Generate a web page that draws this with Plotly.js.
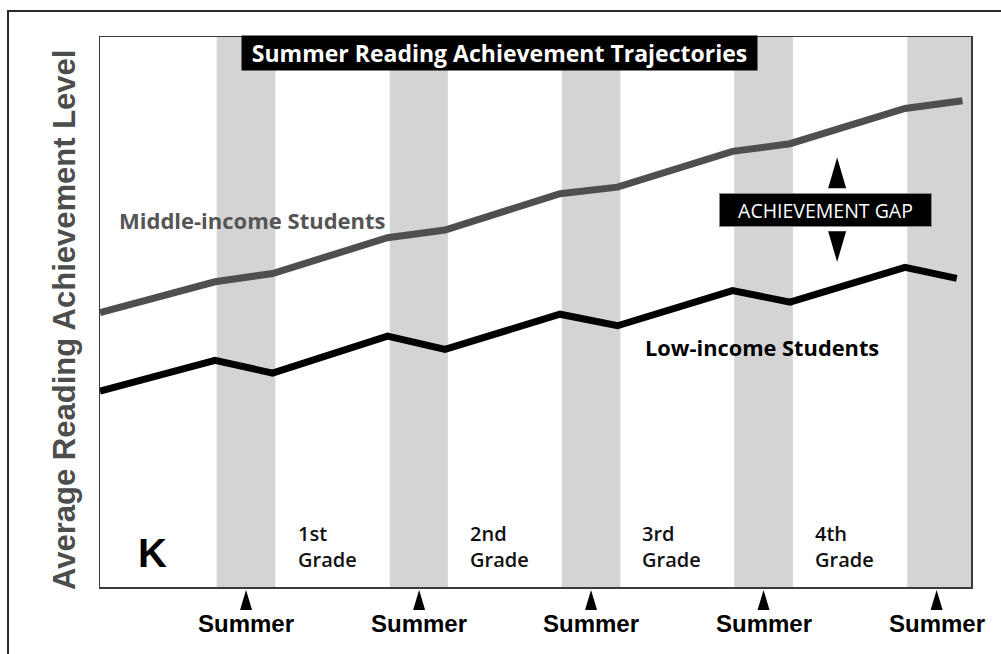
<!DOCTYPE html>
<html>
<head>
<meta charset="utf-8">
<script src="https://cdn.plot.ly/plotly-3.0.1.min.js"></script>
<style>html,body{margin:0;padding:0;background:#fff;}#chart{width:1001px;height:654px;}</style>
</head>
<body>
<div id="chart"></div>
<script>
// ---- data ----
var middleX = [0, 2, 3, 5, 6, 8, 9, 11, 12, 14, 15];
var middleY = [49.9, 55.5, 57.0, 63.5, 64.9, 71.5, 72.7, 79.2, 80.6, 87.0, 88.4];
var lowX = [0, 2, 3, 5, 6, 8, 9, 11, 12, 14, 14.9];
var lowY = [35.6, 41.2, 38.9, 45.6, 43.2, 49.6, 47.5, 53.9, 51.8, 58.1, 56.1];
var summerStart = [2.03, 5.04, 8.03, 11.03, 14.04];
var summerEnd = [3.05, 6.05, 9.05, 12.05, 15.3];
var summerLabel = "Summer";
var gradeLabels = ["1st<br>Grade", "2nd<br>Grade", "3rd<br>Grade", "4th<br>Grade"];
var kLabel = "K";
var titleText = "Summer Reading Achievement Trajectories";
var yTitle = "Average Reading Achievement Level";
var middleLabel = "Middle-income Students";
var lowLabel = "Low-income Students";
var gapLabel = "ACHIEVEMENT GAP";

// ---- layout helpers ----
var XMAX = 15.148;
var shapes = [];
var annotations = [];

// outer border
shapes.push({type:'rect', xref:'paper', yref:'paper', x0:-0.1056, x1:1.06, y0:-0.16, y1:1.0473,
  line:{color:'#2a2a2a', width:2}, fillcolor:'rgba(0,0,0,0)', layer:'below'});

// summer bands + triangles + labels
for (var i = 0; i < summerStart.length; i++) {
  shapes.push({type:'rect', xref:'x', yref:'paper', x0:summerStart[i], x1:summerEnd[i], y0:0, y1:1,
    fillcolor:'#d4d4d4', line:{width:0}, layer:'below'});
  var c = summerStart[i] + 0.51;
  shapes.push({type:'path', xref:'x', yref:'paper', xsizemode:'pixel', ysizemode:'pixel',
    xanchor:c, yanchor:0, path:'M -6,-23 L 6,-23 L 0,-3 Z', fillcolor:'#000', line:{width:0}});
  annotations.push({x:c, y:-0.066, xref:'x', yref:'paper', text:summerLabel, showarrow:false,
    xanchor:'center', yanchor:'middle',
    font:{family:'Liberation Sans, Arial, sans-serif', size:24, color:'#000', weight:'bold'}});
}

// grade labels
for (var g = 0; g < gradeLabels.length; g++) {
  annotations.push({x:summerEnd[g] + 0.35, y:7.3, xref:'x', yref:'y', text:gradeLabels[g], showarrow:false,
    xanchor:'left', yanchor:'middle', align:'left',
    font:{family:'Open Sans, sans-serif', size:20, color:'#111', weight:600}});
}
annotations.push({x:0.62, y:6.2, xref:'x', yref:'y', text:kLabel, showarrow:false,
  xanchor:'left', yanchor:'middle',
  font:{family:'Liberation Sans, Arial, sans-serif', size:40, color:'#000', weight:'bold'}});

// title box
annotations.push({x:6.95, y:0.971, xref:'x', yref:'paper', text:titleText, showarrow:false,
  xanchor:'center', yanchor:'middle', bgcolor:'#000', width:515, height:34, borderpad:0,
  font:{family:'Open Sans, sans-serif', size:23, color:'#fff', weight:'bold'}});

// y title
annotations.push({x:-0.0402, y:0.4855, xref:'paper', yref:'paper', text:yTitle, showarrow:false,
  textangle:-90, xanchor:'center', yanchor:'middle',
  font:{family:'Liberation Sans, Arial, sans-serif', size:31, color:'#4d4d4d', weight:'bold'}});

// series labels
annotations.push({x:0.3, y:66.7, xref:'x', yref:'y', text:middleLabel, showarrow:false,
  xanchor:'left', yanchor:'middle',
  font:{family:'Open Sans, sans-serif', size:22, color:'#555', weight:'bold'}});
annotations.push({x:9.44, y:43.5, xref:'x', yref:'y', text:lowLabel, showarrow:false,
  xanchor:'left', yanchor:'middle',
  font:{family:'Open Sans, sans-serif', size:21.8, color:'#000', weight:'bold'}});

// achievement gap box and arrows
annotations.push({x:12.62, y:68.5, xref:'x', yref:'y', text:gapLabel, showarrow:false,
  xanchor:'center', yanchor:'middle', bgcolor:'#000', bordercolor:'#888', borderwidth:1,
  width:211, height:32, borderpad:0,
  font:{family:'Open Sans, sans-serif', size:19.5, color:'#fff'}});
shapes.push({type:'path', xref:'x', yref:'y', xsizemode:'pixel', xanchor:12.82,
  path:'M -9,72.5 L 9,72.5 L 0,78.1 Z', fillcolor:'#000', line:{width:0}});
shapes.push({type:'path', xref:'x', yref:'y', xsizemode:'pixel', xanchor:12.82,
  path:'M -9,64.7 L 9,64.7 L 0,59.1 Z', fillcolor:'#000', line:{width:0}});

var traces = [
  {x:middleX, y:middleY, type:'scatter', mode:'lines', name:middleLabel,
   line:{color:'#4f4f4f', width:7}, hoverinfo:'skip'},
  {x:lowX, y:lowY, type:'scatter', mode:'lines', name:lowLabel,
   line:{color:'#000', width:7}, hoverinfo:'skip'}
];

var layout = {
  width:1001, height:654,
  margin:{l:100, r:30, t:37, b:67, pad:0},
  paper_bgcolor:'#fff', plot_bgcolor:'#fff',
  showlegend:false,
  xaxis:{range:[0, XMAX], showgrid:false, zeroline:false, showticklabels:false, ticks:'',
    showline:true, mirror:true, linecolor:'#3a3a3a', linewidth:1.5, fixedrange:true},
  yaxis:{range:[0, 100], showgrid:false, zeroline:false, showticklabels:false, ticks:'',
    showline:true, mirror:true, linecolor:'#3a3a3a', linewidth:1.5, fixedrange:true},
  shapes:shapes,
  annotations:annotations
};

Plotly.newPlot('chart', traces, layout, {displayModeBar:false, staticPlot:true});
</script>
</body>
</html>
